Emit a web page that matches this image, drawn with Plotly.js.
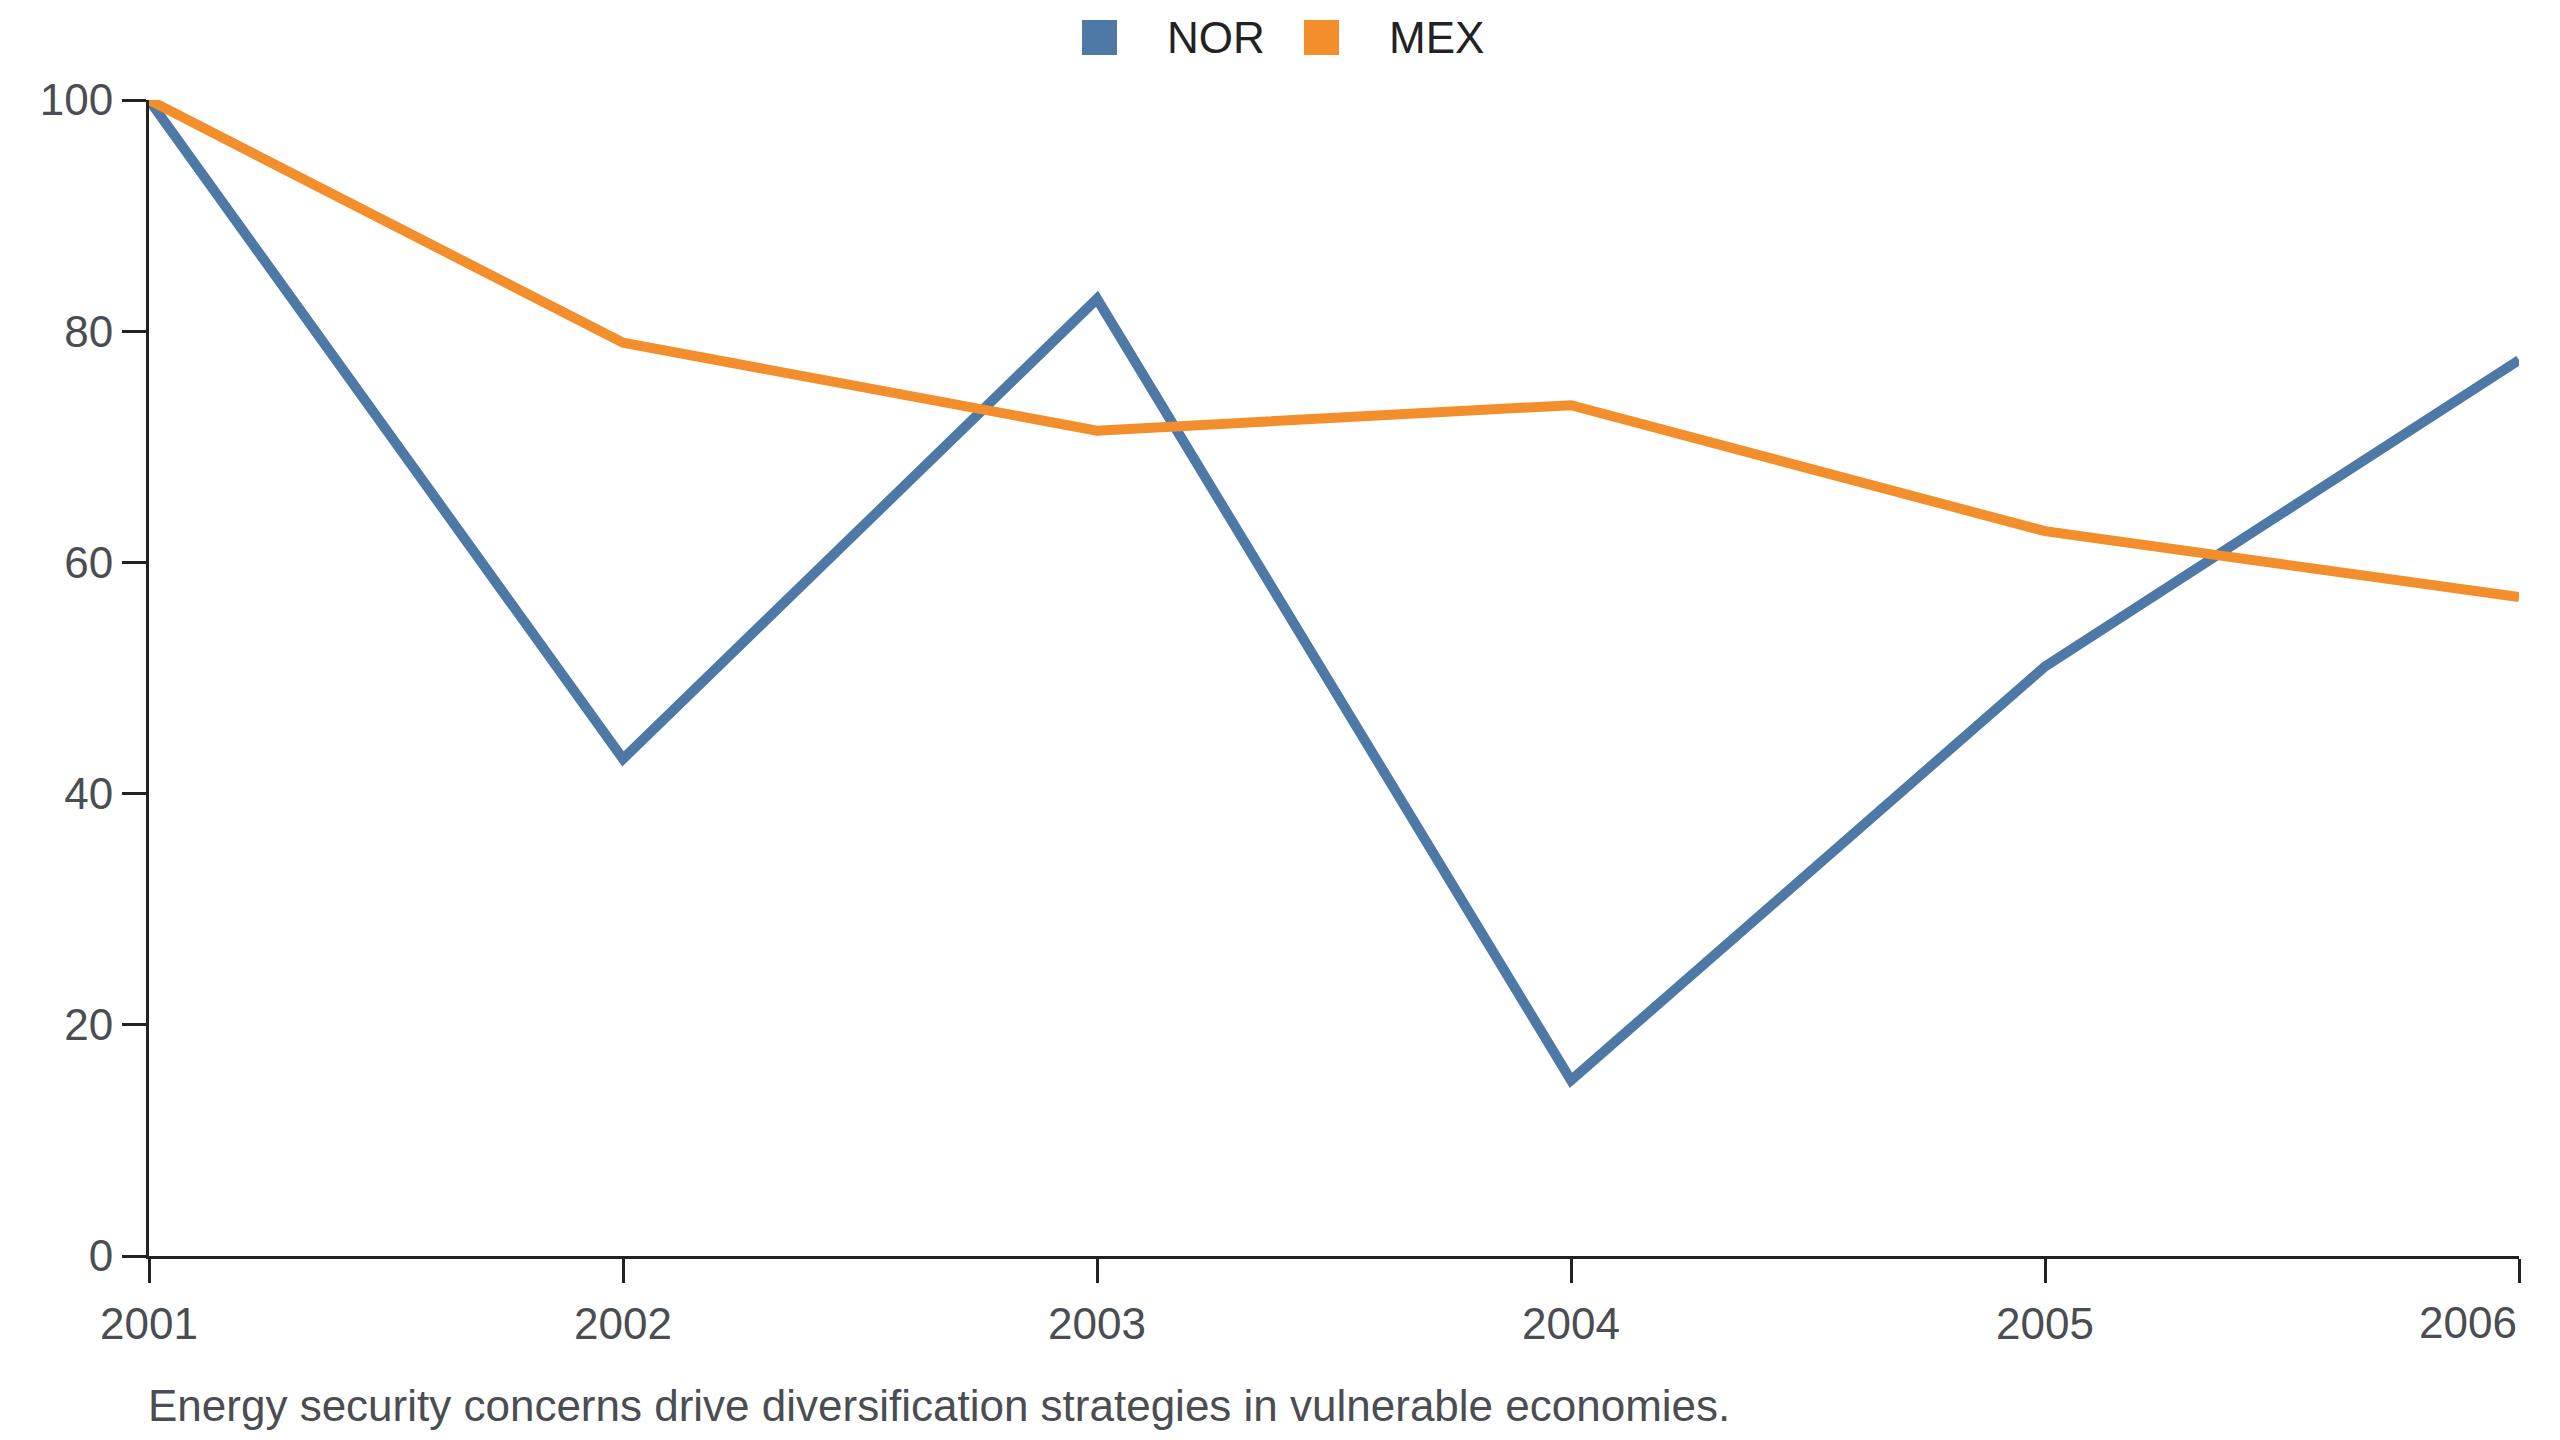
<!DOCTYPE html>
<html>
<head>
<meta charset="utf-8">
<script src="https://cdn.plot.ly/plotly-3.0.1.min.js"></script>
<style>
  html, body { margin: 0; padding: 0; background: #fff; }
  #chart { width: 2560px; height: 1440px; }
</style>
</head>
<body>
<div id="chart"></div>
<script>
var years = [2001, 2002, 2003, 2004, 2005, 2006];
var norValues = [100, 43.0, 82.8, 15.2, 51.0, 77.5];
var mexValues = [100, 79.0, 71.4, 73.6, 62.7, 57.0];
var yTicks = [0, 20, 40, 60, 80, 100];
var seriesNames = ['NOR', 'MEX'];
var seriesColors = ['#4e79a7', '#f28e2b'];
var caption = 'Energy security concerns drive diversification strategies in vulnerable economies.';

var W = 2560, H = 1440;
var margin = {l: 149, r: 41, t: 100, b: 184};
var plotW = W - margin.l - margin.r;
var plotH = H - margin.t - margin.b;

// pixel -> paper helpers for legend and caption placement
function px2x(px) { return (px - margin.l) / plotW; }
function py2y(py) { return (H - margin.b - py) / plotH; }

var data = [
  {
    type: 'scatter',
    mode: 'lines',
    name: seriesNames[0],
    x: years,
    y: norValues,
    line: {color: seriesColors[0], width: 10},
    showlegend: false
  },
  {
    type: 'scatter',
    mode: 'lines',
    name: seriesNames[1],
    x: years,
    y: mexValues,
    line: {color: seriesColors[1], width: 10},
    showlegend: false
  }
];

var xTickText = years.map(function (y, i) { return i === years.length - 1 ? '' : String(y); });

var fontFamily = '"Liberation Sans", Arial, sans-serif';
var axisFont = {family: fontFamily, size: 44, color: '#4a4d52'};

// legend: squares + labels above the plot
var legendSquares = [1082, 1304];
var legendLabels = [1165, 1387];
var shapes = [];
var annotations = [];
seriesNames.forEach(function (name, i) {
  shapes.push({
    type: 'rect', xref: 'paper', yref: 'paper',
    x0: px2x(legendSquares[i]), x1: px2x(legendSquares[i] + 35),
    y0: py2y(55), y1: py2y(20),
    fillcolor: seriesColors[i], line: {width: 0}
  });
  annotations.push({
    xref: 'paper', yref: 'paper',
    x: px2x(legendLabels[i]), y: py2y(37.5),
    xanchor: 'left', yanchor: 'middle',
    text: name, showarrow: false,
    font: {family: fontFamily, size: 44, color: '#222222'}
  });
});

// last x label sits flush with the axis end
annotations.push({
  xref: 'x', yref: 'paper',
  x: years[years.length - 1], y: py2y(1322),
  xanchor: 'right', yanchor: 'middle',
  text: String(years[years.length - 1]), showarrow: false,
  font: axisFont
});

annotations.push({
  xref: 'paper', yref: 'paper',
  x: px2x(146), y: py2y(1405),
  xanchor: 'left', yanchor: 'middle',
  text: caption, showarrow: false,
  font: {family: fontFamily, size: 44, color: '#4a4d52'}
});

var layout = {
  width: W,
  height: H,
  margin: margin,
  paper_bgcolor: '#ffffff',
  plot_bgcolor: '#ffffff',
  showlegend: false,
  xaxis: {
    range: [years[0], years[years.length - 1]],
    tickvals: years,
    ticktext: xTickText,
    showgrid: false,
    zeroline: false,
    showline: true,
    linecolor: '#222222',
    linewidth: 3,
    ticks: 'outside',
    ticklen: 24,
    tickwidth: 3,
    tickcolor: '#222222',
    tickfont: axisFont,
    ticklabelstandoff: 3,
    layer: 'below traces'
  },
  yaxis: {
    range: [0, 100],
    tickvals: yTicks,
    showgrid: false,
    zeroline: false,
    showline: true,
    linecolor: '#222222',
    linewidth: 3,
    ticks: 'outside',
    ticklen: 24,
    tickwidth: 3,
    tickcolor: '#222222',
    tickfont: axisFont,
    layer: 'below traces'
  },
  shapes: shapes,
  annotations: annotations
};

Plotly.newPlot('chart', data, layout, {displayModeBar: false, staticPlot: true});
</script>
</body>
</html>
